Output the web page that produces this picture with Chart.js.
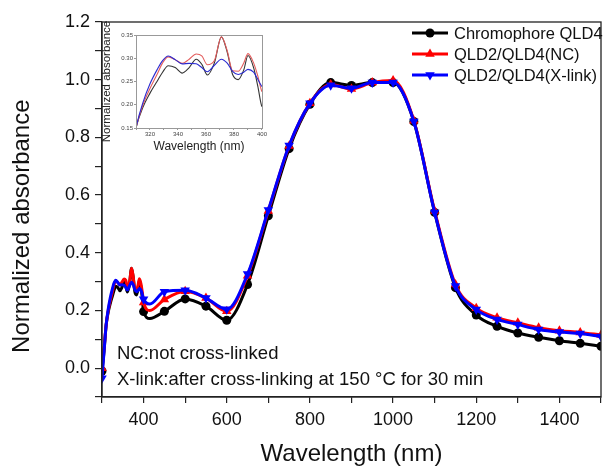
<!DOCTYPE html>
<html><head><meta charset="utf-8">
<script src="https://cdn.jsdelivr.net/npm/chart.js@4.4.1/dist/chart.umd.min.js"></script>
<style>
html,body{margin:0;padding:0;background:#fff;}
#wrap{position:relative;width:607px;height:470px;overflow:hidden;}
#main{position:absolute;left:0;top:0;}
#inset{position:absolute;left:98px;top:18px;}
</style></head><body>
<div id="wrap"><canvas id="main" width="607" height="470"></canvas><canvas id="inset" width="170" height="136"></canvas></div>
<script>
// ---- data ----
const wavelengths = [300,305,310,315,320,325,329,333,338,343,348,353,357,361,366,371,375,379,383,387,390,394,397,400,
  415,450,500,550,600,650,700,750,800,850,900,950,1000,1050,1100,1150,1200,1250,1300,1350,1400,1450,1500];
const chromophoreQLD4 = [-0.01,0.06,0.15,0.195,0.225,0.25,0.27,0.284,0.28,0.268,0.28,0.298,0.287,0.264,0.29,0.346,0.315,0.265,0.254,0.275,0.306,0.28,0.24,0.196,
  0.172,0.197,0.24,0.215,0.166,0.29,0.528,0.761,0.915,0.99,0.98,0.99,0.99,0.855,0.54,0.279,0.184,0.145,0.122,0.107,0.095,0.086,0.076];
const qld2qld4NC = [0.0,0.07,0.15,0.2,0.235,0.265,0.29,0.303,0.297,0.289,0.298,0.309,0.305,0.286,0.295,0.346,0.318,0.273,0.272,0.29,0.31,0.29,0.262,0.228,
  0.2,0.238,0.267,0.243,0.197,0.32,0.545,0.77,0.918,0.983,0.968,0.99,0.997,0.858,0.545,0.29,0.208,0.175,0.157,0.14,0.13,0.124,0.115];
const qld2qld4Xlink = [-0.035,0.06,0.15,0.205,0.245,0.275,0.295,0.305,0.297,0.288,0.289,0.288,0.28,0.271,0.285,0.298,0.29,0.272,0.265,0.27,0.276,0.27,0.255,0.239,
  0.222,0.265,0.27,0.243,0.204,0.326,0.548,0.772,0.918,0.981,0.97,0.99,0.99,0.855,0.54,0.285,0.203,0.169,0.151,0.134,0.125,0.12,0.11];
const seriesNames = ["Chromophore QLD4","QLD2/QLD4(NC)","QLD2/QLD4(X-link)"];
const xTitle = "Wavelength (nm)";
const yTitle = "Normalized absorbance";
const notes = ["NC:not cross-linked","X-link:after cross-linking at 150 \u00B0C for 30 min"];

const FONT = "'Liberation Sans', Arial, Helvetica, sans-serif";
const pts = vals => wavelengths.map((w,i)=>({x:w,y:vals[i]}));
const markerR = r => ctx => (wavelengths[ctx.dataIndex] % 50 === 0 ? r : 0);

const styles = [
  {color:'#000000', pointStyle:'circle', rotation:0, r:4.5, inset:'#333333'},
  {color:'#ff0000', pointStyle:'triangle', rotation:0, r:5.5, inset:'#e35d5d'},
  {color:'#0000ff', pointStyle:'triangle', rotation:180, r:5.5, inset:'#2b2bd0'}
];
const seriesVals = [chromophoreQLD4, qld2qld4NC, qld2qld4Xlink];

const mainPlugin = {
  id:'mainDecor',
  afterDraw(chart){
    const ctx = chart.ctx, a = chart.chartArea;
    ctx.save();
    ctx.strokeStyle = '#222'; ctx.lineWidth = 1.3;
    ctx.strokeRect(a.left, a.top, a.right - a.left, a.bottom - a.top);
    // legend
    const ys = [33,54,75];
    ctx.font = '16.5px ' + FONT; ctx.textBaseline = 'middle'; ctx.textAlign = 'left';
    for (let i = 0; i < 3; i++){
      const s = styles[i], y = ys[i];
      ctx.strokeStyle = s.color; ctx.lineWidth = 3;
      ctx.beginPath(); ctx.moveTo(412, y); ctx.lineTo(448, y); ctx.stroke();
      ctx.fillStyle = s.color;
      Chart.helpers.drawPoint(ctx, {pointStyle:s.pointStyle, rotation:s.rotation, radius:s.r, borderWidth:0}, 430, y);
      ctx.fillStyle = '#111';
      ctx.fillText(seriesNames[i], 454, y + 1);
    }
    // notes
    ctx.font = '18.5px ' + FONT; ctx.fillStyle = '#111';
    ctx.fillText(notes[0], 117, 354);
    ctx.fillText(notes[1], 117, 380);
    ctx.restore();
  }
};

new Chart(document.getElementById('main'), {
  type:'line',
  data:{datasets: seriesVals.map((v,i)=>({
    label: seriesNames[i], data: pts(v),
    borderColor: styles[i].color, backgroundColor: styles[i].color,
    borderWidth: 3, pointStyle: styles[i].pointStyle, rotation: styles[i].rotation,
    pointRadius: markerR(styles[i].r), pointBorderWidth: 0, pointHoverRadius: 0,
    cubicInterpolationMode:'monotone', order: 3 - i
  }))},
  options:{
    responsive:false, animation:false, devicePixelRatio:1,
    layout:{padding:{top:22,right:1,left:0,bottom:0}},
    plugins:{legend:{display:false}, tooltip:{enabled:false}},
    scales:{
      x:{type:'linear', min:300, max:1500,
        ticks:{stepSize:100, autoSkip:false, maxRotation:0, color:'#111', padding:6,
          font:{size:18, family:FONT},
          callback:v => (v % 200 === 0 && v >= 400 && v <= 1400) ? String(v) : ''},
        grid:{drawOnChartArea:false, tickLength:6, color:'#222', lineWidth:1.2},
        border:{color:'#222', width:1.3},
        title:{display:true, text:xTitle, color:'#111', font:{size:24, family:FONT}, padding:{top:0,bottom:1}},
        afterFit:s => { s.height = 73; }
      },
      y:{type:'linear', min:-0.1, max:1.2,
        ticks:{stepSize:0.1, color:'#111', padding:5, font:{size:18, family:FONT},
          callback:v => { const k = Math.round(v*10); return (k >= 0 && k % 2 === 0) ? (k/10).toFixed(1) : ''; }},
        grid:{drawOnChartArea:false, tickLength:7, color:'#222', lineWidth:1.2},
        border:{color:'#222', width:1.3},
        title:{display:true, text:yTitle + '     ', color:'#111', font:{size:24, family:FONT}, padding:{top:8,bottom:0}},
        afterFit:s => { s.width = 102; }
      }
    }
  },
  plugins:[mainPlugin]
});

const insetPlugin = {
  id:'insetDecor',
  afterDraw(chart){
    const ctx = chart.ctx, a = chart.chartArea;
    ctx.save();
    ctx.strokeStyle = '#999'; ctx.lineWidth = 1;
    ctx.strokeRect(a.left + 0.5, a.top + 0.5, a.right - a.left, a.bottom - a.top);
    ctx.translate(9, (a.top + a.bottom) / 2);
    ctx.rotate(-Math.PI/2);
    ctx.font = '11.5px ' + FONT; ctx.fillStyle = '#222';
    ctx.textAlign = 'center'; ctx.textBaseline = 'middle';
    ctx.fillText(yTitle, 0, 0);
    ctx.restore();
  }
};

new Chart(document.getElementById('inset'), {
  type:'line',
  data:{datasets: seriesVals.map((v,i)=>({
    label: seriesNames[i], data: pts(v),
    borderColor: styles[i].inset, backgroundColor: styles[i].inset,
    borderWidth: 1.1, pointRadius: 0, pointHoverRadius: 0,
    cubicInterpolationMode:'monotone', order: 3 - i
  }))},
  options:{
    responsive:false, animation:false, devicePixelRatio:1,
    layout:{padding:{top:17,right:6,left:0,bottom:0}},
    plugins:{legend:{display:false}, tooltip:{enabled:false}},
    scales:{
      x:{type:'linear', min:310, max:400,
        ticks:{stepSize:10, autoSkip:false, maxRotation:0, color:'#444', padding:1,
          font:{size:6, family:FONT}, callback:v => (v % 20 === 0) ? String(v) : ''},
        grid:{drawOnChartArea:false, tickLength:2, color:'#999'},
        border:{color:'#999', width:1},
        title:{display:true, text:xTitle, color:'#222', font:{size:12, family:FONT}, padding:{top:0,bottom:0}},
        afterFit:s => { s.height = 26; }
      },
      y:{type:'linear', min:0.15, max:0.35,
        ticks:{stepSize:0.05, color:'#444', padding:1, font:{size:6, family:FONT},
          callback:v => v.toFixed(2)},
        grid:{drawOnChartArea:false, tickLength:2, color:'#999'},
        border:{color:'#999', width:1},
        title:{display:false},
        afterFit:s => { s.width = 38; }
      }
    }
  },
  plugins:[insetPlugin]
});
</script>
</body></html>
